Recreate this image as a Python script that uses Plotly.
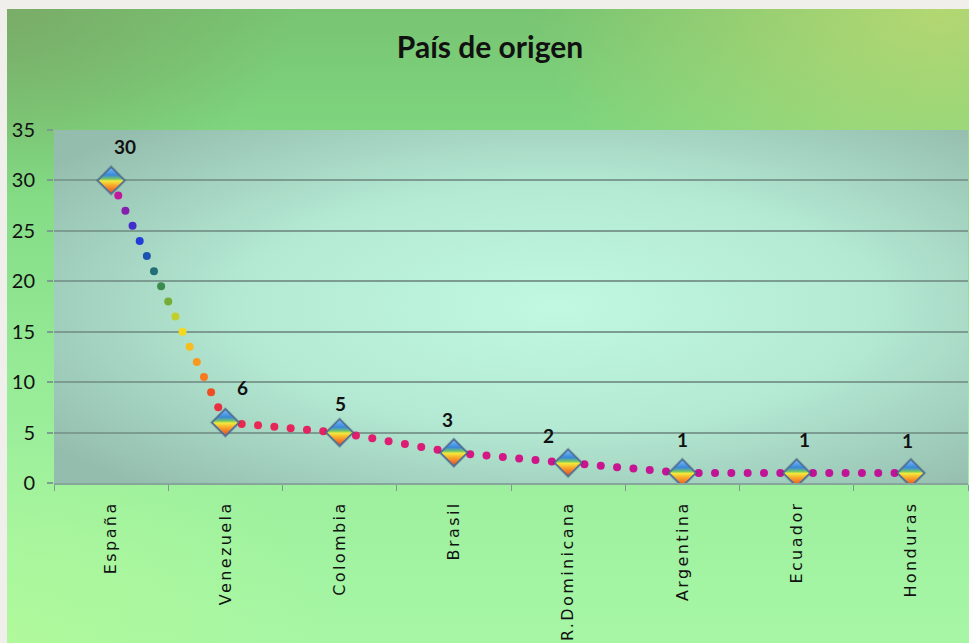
import base64
import math

import numpy as np
import plotly.graph_objects as go

# ---- data -------------------------------------------------------------
countries = ["España", "Venezuela", "Colombia", "Brasil", "R.Dominicana",
             "Argentina", "Ecuador", "Honduras"]
values = [30, 6, 5, 3, 2, 1, 1, 1]
y_ticks = [0, 5, 10, 15, 20, 25, 30, 35]
title_text = "País de origen"

# ---- geometry / style -------------------------------------------------
W, H = 969, 643
M_L, M_R, M_T, M_B = 54, 1, 130, 160
PLOT_W = W - M_L - M_R
PLOT_H = H - M_T - M_B
Y_MAX = 35
DOT_GAP = 17          # spacing of the round dots of the dotted connector (px)
GRID = "#7c9c92"

# colours of the dotted connector: rainbow on the first drop, then red -> magenta
RAINBOW = ["#c0189a", "#8020b0", "#3a30d0", "#1a40d8", "#1a5aa0", "#2a7a60",
           "#4a9a40", "#a0c030", "#f0e020", "#f8c820", "#f8a020", "#f88020",
           "#f05020", "#e83040"]
TAIL = ["#ea2a4a", "#e2206a", "#d8197e", "#cc158e", "#c21496", "#c01498",
        "#c01498"]


def hex_rgb(h):
    return np.array([int(h[i:i + 2], 16) for i in (1, 3, 5)], dtype=float)


def mix(c1, c2, t):
    c = hex_rgb(c1) * (1 - t) + hex_rgb(c2) * t
    return "rgb(%d,%d,%d)" % tuple(np.round(c))


def sample(colors, t):
    pos = t * (len(colors) - 1)
    i = min(int(pos), len(colors) - 2)
    return mix(colors[i], colors[i + 1], pos - i)


x_pos = list(range(len(countries)))

# dotted connector between consecutive points (dots laid along each segment)
px_x = PLOT_W / len(countries)
px_y = PLOT_H / Y_MAX
dot_x, dot_y, dot_c = [], [], []
for i in range(len(values) - 1):
    seg_len = math.hypot(px_x, (values[i + 1] - values[i]) * px_y)
    n = max(int(round(seg_len / DOT_GAP)), 1)
    for k in range(1, n):
        t = k / n
        dot_x.append(x_pos[i] + t)
        dot_y.append(values[i] + (values[i + 1] - values[i]) * t)
        if i == 0:
            dot_c.append(sample(RAINBOW, (k - 1) / max(n - 2, 1)))
        else:
            dot_c.append(mix(TAIL[i - 1], TAIL[i], t))


def svg_uri(svg):
    return "data:image/svg+xml;base64," + base64.b64encode(svg.encode()).decode()


paper_svg = """<svg xmlns='http://www.w3.org/2000/svg' width='962' height='634'
 viewBox='0 0 962 634' preserveAspectRatio='none'>
<defs>
<linearGradient id='a' x1='0' y1='0' x2='0' y2='1'>
 <stop offset='0' stop-color='#78c472'/>
 <stop offset='0.22' stop-color='#7fd880'/>
 <stop offset='0.6' stop-color='#98ec98'/>
 <stop offset='1' stop-color='#a6f6a6'/>
</linearGradient>
<radialGradient id='b' cx='0.97' cy='0.0' r='0.42'>
 <stop offset='0' stop-color='#c2dc72' stop-opacity='0.8'/>
 <stop offset='1' stop-color='#c2dc72' stop-opacity='0'/>
</radialGradient>
<radialGradient id='c' cx='0.0' cy='0.0' r='0.3'>
 <stop offset='0' stop-color='#7aa866' stop-opacity='0.85'/>
 <stop offset='1' stop-color='#7aa866' stop-opacity='0'/>
</radialGradient>
<radialGradient id='d' cx='0.0' cy='1.0' r='0.35'>
 <stop offset='0' stop-color='#b2fa98' stop-opacity='0.8'/>
 <stop offset='1' stop-color='#b2fa98' stop-opacity='0'/>
</radialGradient>
</defs>
<rect width='962' height='634' fill='url(#a)'/>
<rect width='962' height='634' fill='url(#b)'/>
<rect width='962' height='634' fill='url(#c)'/>
<rect width='962' height='634' fill='url(#d)'/>
</svg>"""

plot_svg = """<svg xmlns='http://www.w3.org/2000/svg' width='915' height='353'
 viewBox='0 0 915 353' preserveAspectRatio='none'>
<defs>
<radialGradient id='p' cx='0.55' cy='0.5' r='0.68'>
 <stop offset='0' stop-color='#c0f8e2'/>
 <stop offset='0.5' stop-color='#b4ead4'/>
 <stop offset='1' stop-color='#95bdae'/>
</radialGradient>
</defs>
<rect width='915' height='353' fill='url(#p)'/>
</svg>"""

fig = go.Figure()

# dotted connector
fig.add_trace(go.Scatter(
    x=dot_x, y=dot_y, mode="markers",
    marker=dict(size=8, color=dot_c, line=dict(width=0)),
    hoverinfo="skip", showlegend=False,
))

# soft shadow under the diamonds
fig.add_trace(go.Scatter(
    x=x_pos, y=values, mode="markers",
    marker=dict(symbol="diamond", size=24, color="rgba(30,50,50,0.25)",
                line=dict(width=0)),
    hoverinfo="skip", showlegend=False,
))

# diamond markers (vertical gradient fill)
fig.add_trace(go.Scatter(
    x=x_pos, y=values, mode="markers",
    marker=dict(symbol="diamond", size=20.5, color="#4a90d8",
                gradient=dict(type="vertical", color="#f08020"),
                line=dict(color="#4d6e9c", width=1.5)),
    text=countries, hovertemplate="%{text}: %{y}<extra></extra>",
    showlegend=False,
))

# value labels
label_dx = [14, 17, 1, -6, -20, 0, 8, -3]
label_dy = [34, 35, 29, 33, 27, 33, 33, 32]
for i, v in enumerate(values):
    fig.add_annotation(
        x=x_pos[i], y=v, text=str(v), showarrow=False,
        xshift=label_dx[i], yshift=label_dy[i],
        font=dict(family="Lato", size=19, color="#111111", weight="bold"),
    )

full_x0 = -M_L / PLOT_W
full_y1 = 1 + M_T / PLOT_H
boundaries = [p - 0.5 for p in x_pos] + [x_pos[-1] + 0.5]
fig.update_layout(
    width=W, height=H, autosize=False,
    margin=dict(l=M_L, r=M_R, t=M_T, b=M_B, pad=0),
    paper_bgcolor="#f1efeb",
    plot_bgcolor="rgba(0,0,0,0)",
    showlegend=False,
    title=dict(text=title_text, x=490 / W, xref="container", xanchor="center",
               y=1 - 47 / H, yref="container", yanchor="middle",
               font=dict(family="Lato", size=30, color="#111111",
                         weight="bold")),
    images=[
        dict(source=svg_uri(paper_svg), xref="paper", yref="paper",
             x=full_x0 + 7 / PLOT_W, y=full_y1 - 9 / PLOT_H,
             sizex=(W - 7) / PLOT_W, sizey=(H - 9) / PLOT_H,
             xanchor="left", yanchor="top", sizing="stretch", layer="below"),
        dict(source=svg_uri(plot_svg), xref="paper", yref="paper",
             x=0, y=1, sizex=1, sizey=1, xanchor="left", yanchor="top",
             sizing="stretch", layer="below"),
    ],
    xaxis=dict(
        type="linear", range=[-0.5, len(countries) - 0.5],
        tickmode="array", tickvals=x_pos, ticktext=countries,
        ticks="", tickangle=-90, ticklabelstandoff=10,
        tickfont=dict(family="DejaVu Sans", size=16, color="#111111"),
        minor=dict(tickmode="array", tickvals=boundaries, ticks="outside",
                   ticklen=6, tickwidth=1, tickcolor=GRID, showgrid=False),
        showgrid=False, zeroline=False,
        showline=True, linecolor="#86a69b", linewidth=2,
    ),
    yaxis=dict(
        range=[0, Y_MAX], tickmode="array", tickvals=y_ticks,
        ticks="outside", ticklen=6, tickwidth=2, tickcolor=GRID,
        tickfont=dict(family="Lato", size=20, color="#111111"),
        ticklabelstandoff=8,
        showgrid=True, gridcolor=GRID, gridwidth=2,
        zeroline=False, showline=False,
    ),
)

# richer rainbow fill for the diamonds and Excel-like spacing of the category labels
post_js = """
var gd = document.getElementById('{plot_id}');
var stops = [[0,'#78c0f6'],[0.3,'#3a88da'],[0.44,'#70c468'],[0.52,'#f2ea3c'],
             [0.7,'#f8a228'],[1,'#e0442a']];
gd.querySelectorAll('linearGradient').forEach(function(g){
  g.setAttribute('x1','0'); g.setAttribute('y1','0');
  g.setAttribute('x2','0'); g.setAttribute('y2','1');
  while(g.firstChild){ g.removeChild(g.firstChild); }
  stops.forEach(function(s){
    var st = document.createElementNS('http://www.w3.org/2000/svg','stop');
    st.setAttribute('offset', s[0]);
    st.setAttribute('stop-color', s[1]);
    g.appendChild(st);
  });
});
gd.querySelectorAll('.xtick text').forEach(function(t){
  t.style.letterSpacing = '2.4px';
});
"""

fig.write_html("out.html", config={"displayModeBar": False},
               post_script=post_js)
